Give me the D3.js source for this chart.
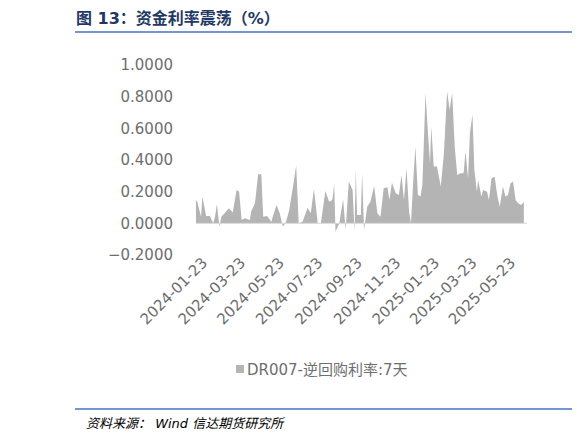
<!DOCTYPE html>
<html><head><meta charset="utf-8">
<script src="https://cdn.jsdelivr.net/npm/d3@7"></script>
<style>body{margin:0;background:#fff}svg{font-family:"DejaVu Sans","Noto Sans CJK SC",sans-serif}</style>
</head><body><svg id="c" width="577" height="439"></svg>
<script>
const startDate = "2024-01-23";
// days since start date
const dayOffsets = [0,2,8,10,16,22,27,30,33,37,40,45,52,58,64,68,72,77,85,87,93,98,103,106,112,119,121,127,132,137,142,147,153,158,162,168,176,181,186,192,197,204,210,215,218,220,226,232,236,241,247,250,252,254,260,262,265,270,275,281,
  286,291,296,302,305,309,315,320,324,328,332,336,339,343,346,350,354,357,362,365,369,371,375,380,386,391,396,400,404,408,412,417,422,425,429,432,436,439,443,445,450,453,459,462,466,471,475,479,484,488,492,496,500,504,508,513,517];
const spread = [0.148,0.137,0.042,0.169,0.046,0.046,0,0.042,0.122,-0.021,0.042,0.063,0.095,0.068,0.211,0.2,0.021,0.032,0.021,0.074,0.127,0.31,0.31,0.042,0.046,0.01,0.042,0.116,0.063,-0.021,0.01,0.084,0.232,0.367,0,0.01,0.099,0.063,0.217,0,0,0.205,0.137,0.148,0.247,-0.053,0,0.152,-0.042,0.264,0.211,-0.053,0.338,0.053,0.053,0.316,-0.042,0.105,0.137,0.236,
  0.063,0.042,0.222,0.228,0.148,0.257,0.19,0.179,0.306,0.148,0.348,0.074,0,0.295,0.485,0.179,0.169,0.243,0.823,0.622,0.38,0.612,0.359,0.359,0.232,0.443,0.833,0.717,0.823,0.485,0.306,0.316,0.316,0.454,0.285,0.57,0.686,0.338,0.2,0.274,0.169,0.211,0.2,0.148,0.285,0.295,0.179,0.105,0.232,0.169,0.179,0.253,0.264,0.148,0.127,0.116,0.137];
const tickDates = ["2024-01-23","2024-03-23","2024-05-23","2024-07-23","2024-09-23","2024-11-23","2025-01-23","2025-03-23","2025-05-23"];
const yTicks = [-0.2,0,0.2,0.4,0.6,0.8,1.0];
const seriesName = "DR007-逆回购利率:7天";

const parse = d3.timeParse("%Y-%m-%d");
const t0 = parse(startDate);
const data = dayOffsets.map((o,i)=>({date:d3.timeDay.offset(t0,o), v:spread[i]}));

const svg = d3.select("#c");
const blue = "#4472c4", titleC = "#1f3864", grey = "#6e6e6e";

// title + rules
svg.append("text").attr("x",76).attr("y",24).attr("fill",titleC)
  .attr("font-size",16).attr("font-weight","bold").text("图 13：资金利率震荡（%）");
svg.append("line").attr("x1",75).attr("x2",572).attr("y1",32).attr("y2",32).attr("stroke",blue).attr("stroke-width",1.5);
svg.append("line").attr("x1",75).attr("x2",572).attr("y1",409).attr("y2",409).attr("stroke",blue).attr("stroke-width",1.5);
svg.append("text").attr("x",86).attr("y",428).attr("fill","#000").attr("font-size",13)
  .attr("font-style","italic").text("资料来源：  Wind  信达期货研究所");

const x = d3.scaleTime().domain([t0, parse("2025-06-28")]).range([196,527]);
const y = d3.scaleLinear().domain([-0.2,1.0]).range([255,65]);

svg.append("g").attr("transform","translate(173,0)")
  .call(d3.axisLeft(y).tickValues(yTicks).tickFormat(d3.format(".4f")).tickSize(0).tickPadding(0))
  .call(g=>g.select(".domain").remove())
  .selectAll("text").attr("fill",grey).attr("font-size",15).attr("font-family","DejaVu Sans");

svg.append("path").datum(data)
  .attr("fill","#b4b4b4")
  .attr("d", d3.area().x(d=>x(d.date)).y0(y(0)).y1(d=>y(d.v)));
svg.append("line").attr("x1",196).attr("x2",527).attr("y1",y(0)).attr("y2",y(0)).attr("stroke","#d9d9d9");

const xa = svg.append("g").attr("transform",`translate(0,${y(-0.2)+12})`)
  .call(d3.axisBottom(x).tickValues(tickDates.map(parse)).tickFormat(d3.timeFormat("%Y-%m-%d")).tickSize(0));
xa.select(".domain").remove();
xa.selectAll("text").attr("fill",grey).attr("font-size",15).attr("font-family","DejaVu Sans")
  .attr("text-anchor","end").attr("dx","0.7em").attr("dy","0.2em").attr("transform","rotate(-45)");

// legend
svg.append("rect").attr("x",236).attr("y",365).attr("width",8).attr("height",8).attr("fill","#b4b4b4");
svg.append("text").attr("x",247).attr("y",375).attr("fill",grey).attr("font-size",15).text(seriesName);
</script></body></html>
